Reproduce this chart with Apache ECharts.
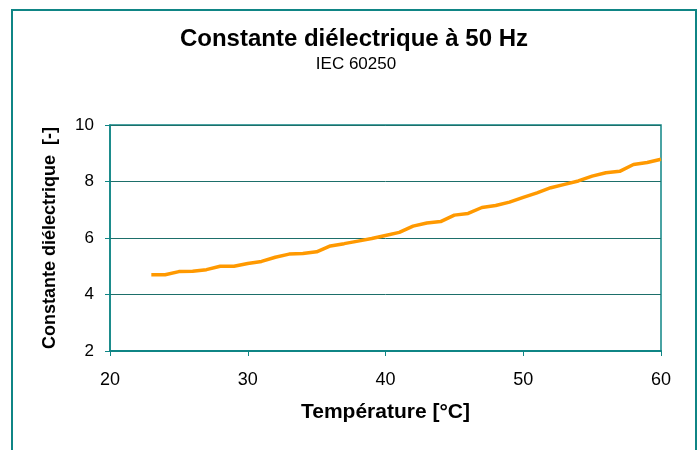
<!DOCTYPE html>
<html>
<head>
<meta charset="utf-8">
<script src="https://cdn.jsdelivr.net/npm/echarts@6/dist/echarts.min.js"></script>
<style>
html,body{margin:0;padding:0;background:#fff;}
#chart{width:698px;height:450px;}
</style>
</head>
<body>
<div id="chart"></div>
<script>
const temperatures = [23,24,25,26,27,28,29,30,31,32,33,34,35,36,37,38,39,40,41,42,43,44,45,46,47,48,49,50,51,52,53,54,55,56,57,58,59,60];
const dielectric = [4.7,4.7,4.81,4.82,4.88,5.0,5.0,5.1,5.17,5.32,5.43,5.45,5.51,5.72,5.8,5.89,5.98,6.09,6.2,6.42,6.53,6.58,6.81,6.87,7.08,7.15,7.27,7.44,7.6,7.78,7.9,8.02,8.19,8.31,8.36,8.6,8.67,8.79];
const xTicks = [20,30,40,50,60];
const yTicks = [2,4,6,8,10];
const titleText = 'Constante diélectrique à 50 Hz';
const subtitleText = 'IEC 60250';
const xName = 'Température [°C]';
const yName = 'Constante diélectrique  [-]';

const teal = '#0f8585';
const gridTeal = '#1d6f6a';
const font = 'Liberation Sans, Arial, sans-serif';

const chart = echarts.init(document.getElementById('chart'), null, {renderer: 'canvas'});
chart.setOption({
  animation: false,
  backgroundColor: '#fff',
  graphic: [{
    type: 'rect', z: 100, silent: true,
    shape: {x: 12, y: 10, width: 684, height: 470},
    style: {fill: 'none', stroke: teal, lineWidth: 2}
  }],
  title: [{
    text: titleText, left: 349, textAlign: 'center', top: 22,
    textStyle: {fontFamily: font, fontWeight: 'bold', fontSize: 24, color: '#000', letterSpacing: 0.4}
  }, {
    text: subtitleText, left: 351, textAlign: 'center', top: 51,
    textStyle: {fontFamily: font, fontWeight: 'normal', fontSize: 17, color: '#000', letterSpacing: -0.4}
  }],
  grid: {
    left: 110, right: 37, top: 125, bottom: 99,
    show: true, borderColor: teal, borderWidth: 1.5, backgroundColor: '#fff'
  },
  xAxis: {
    type: 'value', min: xTicks[0], max: xTicks[xTicks.length - 1], interval: 10,
    name: xName, nameLocation: 'middle', nameGap: 51,
    nameTextStyle: {fontFamily: font, fontWeight: 'bold', fontSize: 21, color: '#000'},
    axisLine: {show: true, lineStyle: {color: teal, width: 2}},
    axisTick: {show: true, length: 5, lineStyle: {color: teal, width: 1}},
    axisLabel: {fontFamily: font, fontSize: 18, color: '#000', margin: 20},
    splitLine: {show: false}
  },
  yAxis: {
    type: 'value', min: yTicks[0], max: yTicks[yTicks.length - 1], interval: 2,
    name: yName, nameLocation: 'middle', nameGap: 51, nameRotate: 90,
    nameTextStyle: {fontFamily: font, fontWeight: 'bold', fontSize: 18, color: '#000'},
    axisLine: {show: true, lineStyle: {color: teal, width: 1.5}},
    axisTick: {show: true, length: 5, lineStyle: {color: teal, width: 1}},
    axisLabel: {fontFamily: font, fontSize: 17, color: '#000', margin: 16},
    splitLine: {show: true, lineStyle: {color: gridTeal, width: 1}}
  },
  series: [{
    type: 'line',
    data: temperatures.map((t, i) => [t, dielectric[i]]),
    showSymbol: false,
    lineStyle: {color: '#ff9900', width: 3.5},
    itemStyle: {color: '#ff9900'}
  }]
});
</script>
</body>
</html>
